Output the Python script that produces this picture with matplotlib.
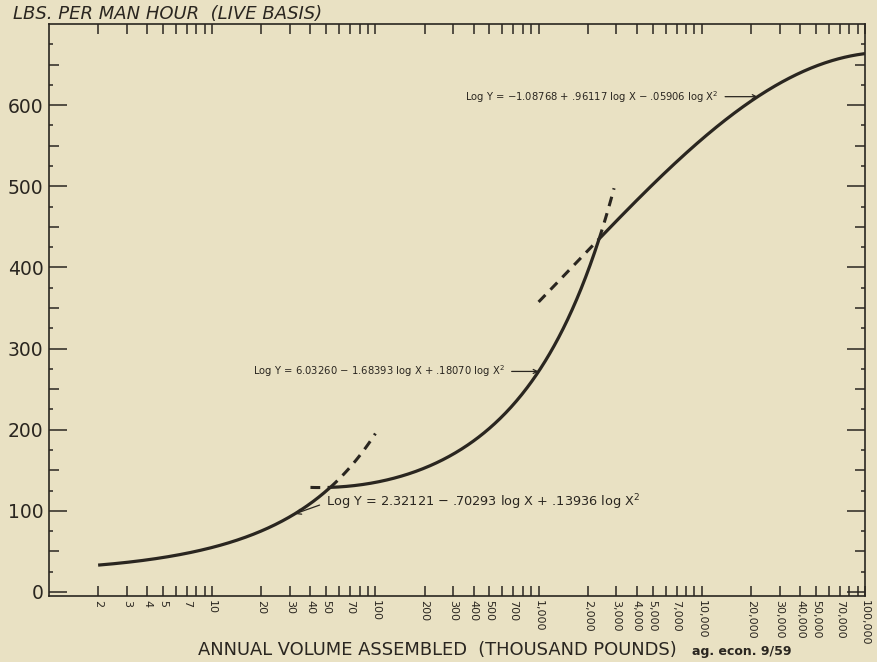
import numpy as np
import matplotlib.pyplot as plt
import matplotlib.ticker as mticker

# log Y = a + b log X + c (log X)^2, X in pounds, Y in lbs per man hour
coef_a = [2.32121, 6.03260, -1.08768]
coef_b = [-0.70293, -1.68393, 0.96117]
coef_c = [0.13936, 0.18070, -0.05906]

eq_labels = [
    "Log Y = 2.32121 − .70293 log X + .13936 log X$^2$",
    "Log Y = 6.03260 − 1.68393 log X + .18070 log X$^2$",
    "Log Y = −1.08768 + .96117 log X − .05906 log X$^2$",
]

# volume range in thousand pounds
vol_min, vol_max = 2, 100000
# dashed continuations past the joins (thousand pounds)
ext_lo = [None, 40, 1000]
ext_hi = [100, 2900, None]
# where each equation label points (thousand pounds)
arrow_at = [32, 1000, 22000]
# label anchor: x in thousand pounds, y in lbs per hour (None = level with arrow tip)
ann_x = [50, 620, 12600]
ann_y = [110, None, None]

tick_vals = [2, 3, 4, 5, 7, 10, 20, 30, 40, 50, 70, 100, 200, 300, 400, 500, 700,
             1000, 2000, 3000, 4000, 5000, 7000, 10000, 20000, 30000, 40000,
             50000, 70000, 100000]
minor_vals = [6, 8, 9, 60, 80, 90, 600, 800, 900, 6000, 8000, 9000, 60000, 80000, 90000]
y_ticks = [0, 100, 200, 300, 400, 500, 600]

ink = "#2a2620"
paper = "#e9e1c3"


def lbs_per_hour(k, vol):
    L = np.log10(np.asarray(vol, dtype=float) * 1000)
    return 10 ** (coef_a[k] + coef_b[k] * L + coef_c[k] * L ** 2)


def join_point(i, j):
    # crossing of two neighbouring fits, in thousand pounds
    p = [coef_c[i] - coef_c[j], coef_b[i] - coef_b[j], coef_a[i] - coef_a[j]]
    r = np.roots(p).real
    r = r[(r > 3) & (r < 8)][0]
    return 10 ** r / 1000


breaks = [vol_min, join_point(0, 1), join_point(1, 2), vol_max]

fig = plt.figure(figsize=(8.78, 6.62), dpi=100, facecolor=paper)
ax = fig.add_axes([49 / 878, 66 / 662, 816 / 878, 572 / 662])
ax.set_facecolor(paper)
ax.set_xscale("log")
ax.set_xlim(1, 100000)
ax.set_ylim(-5, 700)

for k in range(3):
    xs = np.geomspace(breaks[k], breaks[k + 1], 300)
    ax.plot(xs, lbs_per_hour(k, xs), color=ink, lw=2.3, solid_capstyle="butt")
    if ext_hi[k] is not None:
        xs = np.geomspace(breaks[k + 1], ext_hi[k], 100)
        ax.plot(xs, lbs_per_hour(k, xs), color=ink, lw=2.2, ls=(0, (3.2, 2.4)))
    if ext_lo[k] is not None:
        xs = np.geomspace(ext_lo[k], breaks[k], 100)
        ax.plot(xs, lbs_per_hour(k, xs), color=ink, lw=2.2, ls=(0, (3.2, 2.4)))

# equation labels with arrows to their curves
for k in range(3):
    tip = (arrow_at[k], float(lbs_per_hour(k, arrow_at[k])))
    ty = tip[1] if ann_y[k] is None else ann_y[k]
    left = k == 0
    ax.annotate(eq_labels[k], xy=tip, xytext=(ann_x[k], ty),
                ha="left" if left else "right", va="center",
                fontsize=9.3 if left else 7.2, color=ink,
                arrowprops=dict(arrowstyle="->", color=ink, lw=0.9,
                                relpos=(0, 0.5) if left else (1, 0.5),
                                shrinkA=3, shrinkB=0))

# axis ticks
ax.xaxis.set_major_locator(mticker.FixedLocator(tick_vals))
ax.xaxis.set_major_formatter(mticker.FixedFormatter([f"{v:,}" for v in tick_vals]))
ax.xaxis.set_minor_locator(mticker.FixedLocator(minor_vals))
ax.xaxis.set_minor_formatter(mticker.NullFormatter())
ax.tick_params(axis="x", which="both", direction="in", length=7, width=1.1,
               color=ink, top=True, pad=3)
ax.tick_params(axis="x", which="major", labelsize=8, labelcolor=ink, labelrotation=-90)
for lab in ax.get_xticklabels():
    lab.set_va("top")

ax.set_yticks(y_ticks)
ax.yaxis.set_minor_locator(mticker.FixedLocator(np.arange(50, 700, 100)))
ax.tick_params(axis="y", which="major", direction="in", length=13, width=1.1,
               color=ink, right=True, labelsize=13.5, labelcolor=ink, pad=4)
ax.tick_params(axis="y", which="minor", direction="in", length=7, width=1.1,
               color=ink, right=True)
quarter = np.arange(25, 700, 50)
ax.hlines(quarter, 0, 0.005, transform=ax.get_yaxis_transform(), color=ink, lw=1.1)
ax.hlines(quarter, 0.995, 1, transform=ax.get_yaxis_transform(), color=ink, lw=1.1)

for s in ax.spines.values():
    s.set_color(ink)
    s.set_linewidth(1.2)

fig.text(13 / 878, 1 - 14 / 662, "LBS. PER MAN HOUR  (LIVE BASIS)", fontsize=13,
         color=ink, va="center", ha="left", style="italic")
fig.text(198 / 878, 1 - 650 / 662, "ANNUAL VOLUME ASSEMBLED  (THOUSAND POUNDS)",
         fontsize=12.9, color=ink, va="center", ha="left")
fig.text(692 / 878, 1 - 652 / 662, "ag. econ. 9/59", fontsize=9, color=ink,
         va="center", ha="left", weight="bold")

fig.savefig("out.png", dpi=100, facecolor=paper)
